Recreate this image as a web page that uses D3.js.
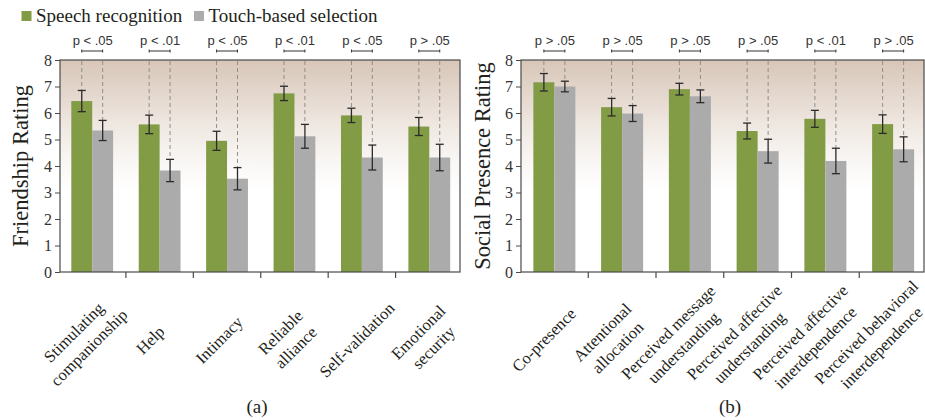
<!DOCTYPE html>
<html><head><meta charset="utf-8">
<script src="https://cdn.jsdelivr.net/npm/d3@7"></script>
<style>body{margin:0;background:#fff}</style>
</head><body>
<svg id="chart" width="925" height="420"></svg>
<script>
// ---------- data ----------
const seriesNames = ["Speech recognition", "Touch-based selection"];
const yTicks = [0, 1, 2, 3, 4, 5, 6, 7, 8];

const friendshipCategories = ["Stimulating\ncompanionship", "Help", "Intimacy", "Reliable\nalliance", "Self-validation", "Emotional\nsecurity"];
const friendshipSpeech = [6.45, 5.57, 4.95, 6.74, 5.91, 5.49];
const friendshipSpeechErr = [0.40, 0.35, 0.36, 0.27, 0.27, 0.34];
const friendshipTouch = [5.34, 3.83, 3.52, 5.12, 4.32, 4.32];
const friendshipTouchErr = [0.38, 0.42, 0.42, 0.45, 0.47, 0.50];
const friendshipP = ["p < .05", "p < .01", "p < .05", "p < .01", "p < .05", "p > .05"];

const presenceCategories = ["Co-presence", "Attentional\nallocation", "Perceived message\nunderstanding", "Perceived affective\nunderstanding", "Perceived affective\ninterdependence", "Perceived behavioral\ninterdependence"];
const presenceSpeech = [7.16, 6.22, 6.90, 5.32, 5.78, 5.58];
const presenceSpeechErr = [0.33, 0.33, 0.22, 0.30, 0.32, 0.35];
const presenceTouch = [7.00, 5.98, 6.63, 4.56, 4.19, 4.63];
const presenceTouchErr = [0.20, 0.30, 0.24, 0.45, 0.48, 0.47];
const presenceP = ["p > .05", "p > .05", "p > .05", "p > .05", "p < .01", "p > .05"];

// ---------- style ----------
const colors = ["#829b45", "#ababab"];
const serif = "'Liberation Serif', 'Times New Roman', serif";
const sans = "'Liberation Sans', Arial, sans-serif";

const svg = d3.select("#chart");
const plotTop = 60, plotBottom = 272;
const y = d3.scaleLinear().domain([0, 8]).range([plotBottom, plotTop]);

// gradient
const defs = svg.append("defs");
const grad = defs.append("linearGradient").attr("id", "bg").attr("x1", 0).attr("y1", 0).attr("x2", 0).attr("y2", 1);
[[0, "#d8c6b8"], [0.15, "#e3d6cc"], [0.32, "#f0e9e3"], [0.5, "#faf8f6"], [0.62, "#ffffff"], [1, "#ffffff"]]
  .forEach(([o, c]) => grad.append("stop").attr("offset", o).attr("stop-color", c));

// legend
const legend = svg.append("g");
[[21.5, 0], [194, 1]].forEach(([lx, i]) => {
  legend.append("rect").attr("x", lx).attr("y", 11).attr("width", 10).attr("height", 10).attr("fill", colors[i]);
  legend.append("text").attr("x", lx + 14.5).attr("y", 21.5).attr("font-family", serif).attr("font-size", 19)
    .attr("fill", "#231f20").text(seriesNames[i]);
});

function panel(cfg) {
  const g = svg.append("g");
  const x = d3.scaleBand().domain(cfg.cats).range(cfg.band).paddingInner(0.38).paddingOuter(0.19);
  const sub = d3.scaleBand().domain([0, 1]).range([0, x.bandwidth()]);
  const step = x.step();

  // background
  g.append("rect").attr("x", cfg.frame[0]).attr("y", plotTop).attr("width", cfg.frame[1] - cfg.frame[0])
    .attr("height", plotBottom - plotTop).attr("fill", "url(#bg)");

  const rows = cfg.cats.map((c, i) => ({
    c, i, vals: [cfg.s[i], cfg.t[i]], errs: [cfg.se[i], cfg.te[i]], p: cfg.p[i]
  }));

  // dashed guide lines
  rows.forEach(r => {
    [0, 1].forEach(k => {
      const cx = x(r.c) + sub(k) + sub.bandwidth() / 2;
      g.append("line").attr("x1", cx).attr("x2", cx).attr("y1", plotTop + 1).attr("y2", y(r.vals[k] + r.errs[k]))
        .attr("stroke", "#8f8f8f").attr("stroke-width", 1).attr("stroke-dasharray", "4,3");
    });
  });

  // bars
  rows.forEach(r => {
    [0, 1].forEach(k => {
      g.append("rect").attr("x", x(r.c) + sub(k)).attr("width", sub.bandwidth())
        .attr("y", y(r.vals[k])).attr("height", y(0) - y(r.vals[k])).attr("fill", colors[k]);
    });
  });

  // error bars
  rows.forEach(r => {
    [0, 1].forEach(k => {
      const cx = x(r.c) + sub(k) + sub.bandwidth() / 2;
      const y1 = y(r.vals[k] + r.errs[k]), y2 = y(r.vals[k] - r.errs[k]);
      const eg = g.append("g").attr("stroke", "#2b2b2b").attr("stroke-width", 1.3);
      eg.append("line").attr("x1", cx).attr("x2", cx).attr("y1", y1).attr("y2", y2);
      eg.append("line").attr("x1", cx - 4).attr("x2", cx + 4).attr("y1", y1).attr("y2", y1);
      eg.append("line").attr("x1", cx - 4).attr("x2", cx + 4).attr("y1", y2).attr("y2", y2);
    });
  });

  // p-values with brackets
  rows.forEach(r => {
    const c0 = x(r.c) + sub(0) + sub.bandwidth() / 2;
    const c1 = x(r.c) + sub(1) + sub.bandwidth() / 2;
    g.append("text").attr("x", (c0 + c1) / 2 + 0.5).attr("y", 45).attr("text-anchor", "middle")
      .attr("font-family", sans).attr("font-size", 13).attr("fill", "#333").text(r.p);
    const bg = g.append("g").attr("stroke", "#333").attr("stroke-width", 1);
    bg.append("line").attr("x1", c0).attr("x2", c1).attr("y1", 51).attr("y2", 51);
    bg.append("line").attr("x1", c0).attr("x2", c0).attr("y1", 49.5).attr("y2", 52.5);
    bg.append("line").attr("x1", c1).attr("x2", c1).attr("y1", 49.5).attr("y2", 52.5);
  });

  // frame
  g.append("rect").attr("x", cfg.frame[0]).attr("y", plotTop).attr("width", cfg.frame[1] - cfg.frame[0])
    .attr("height", plotBottom - plotTop).attr("fill", "none").attr("stroke", "#4a4a4a").attr("stroke-width", 1.2);

  // y axis
  const ya = g.append("g").attr("transform", `translate(${cfg.frame[0]},0)`)
    .call(d3.axisLeft(y).tickValues(yTicks).tickFormat(d3.format("d")).tickSize(5).tickPadding(3));
  ya.select(".domain").remove();
  ya.selectAll(".tick line").attr("stroke", "#4a4a4a");
  ya.selectAll(".tick text").attr("font-family", serif).attr("font-size", 16).attr("fill", "#333");

  // x ticks at category boundaries
  cfg.cats.slice(1).forEach(c => {
    const bx = x(c) - step * x.paddingInner() / 2;
    g.append("line").attr("x1", bx).attr("x2", bx).attr("y1", plotBottom).attr("y2", plotBottom + 6)
      .attr("stroke", "#4a4a4a").attr("stroke-width", 1.2);
  });

  // category labels
  const lx = d3.scalePoint().domain(cfg.cats).range(cfg.labelRange);
  const lineH = 21.5;
  cfg.cats.forEach(c => {
    const lines = c.split("\n");
    const t = g.append("text").attr("transform", `translate(${lx(c)},340) rotate(-45)`)
      .attr("text-anchor", "middle").attr("font-family", serif).attr("font-size", 16.5).attr("fill", "#231f20");
    lines.forEach((ln, j) => {
      t.append("tspan").attr("x", 0).attr("y", (j - (lines.length - 1) / 2) * lineH + 5.5).text(ln);
    });
  });

  // y title
  g.append("text").attr("transform", `translate(${cfg.titleX},${(plotTop + plotBottom) / 2}) rotate(-90)`)
    .attr("text-anchor", "middle").attr("font-family", serif).attr("font-size", 22.5).attr("fill", "#231f20")
    .text(cfg.title);

  // panel label
  g.append("text").attr("x", cfg.panelX).attr("y", 413).attr("text-anchor", "middle")
    .attr("font-family", serif).attr("font-size", 19).attr("fill", "#231f20").text(cfg.panelLabel);
}

panel({
  cats: friendshipCategories, s: friendshipSpeech, se: friendshipSpeechErr, t: friendshipTouch, te: friendshipTouchErr, p: friendshipP,
  frame: [60, 460], band: [58.5, 463], labelRange: [81.5, 426], titleX: 28, title: "Friendship Rating", panelX: 257, panelLabel: "(a)"
});
panel({
  cats: presenceCategories, s: presenceSpeech, se: presenceSpeechErr, t: presenceTouch, te: presenceTouchErr, p: presenceP,
  frame: [521, 924], band: [520.5, 927], labelRange: [544, 874], titleX: 490, title: "Social Presence Rating", panelX: 730, panelLabel: "(b)"
});
</script>
</body></html>
